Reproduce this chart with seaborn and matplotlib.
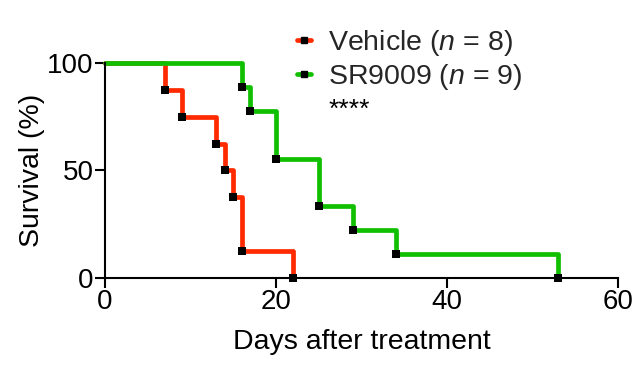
import numpy as np
import pandas as pd
import matplotlib
matplotlib.use('Agg')
import matplotlib.pyplot as plt
from matplotlib.lines import Line2D
import seaborn as sns

# Dias de morte (sem censura) por grupo
vehicle_days = [7, 9, 13, 14, 15, 16, 16, 22]
sr9009_days = [16, 17, 20, 20, 25, 25, 29, 34, 53]
group_names = ['Vehicle', 'SR9009']
group_colors = ['#ff2a00', '#10c000']
legend_labels = ['Vehicle ($\\it{n}$ = 8)', 'SR9009 ($\\it{n}$ = 9)']
x_ticks = [0, 20, 40, 60]
y_ticks = [0, 50, 100]


def curva_km(dias):
    """Kaplan-Meier simples (todos eventos)"""
    n = len(dias)
    tempos = sorted(set(dias))
    t = [0]
    s = [100.0]
    vivos = n
    for tt in tempos:
        vivos -= dias.count(tt)
        t.append(tt)
        s.append(100.0 * vivos / n)
    return t, s


frames = []
for nome, dias in zip(group_names, [vehicle_days, sr9009_days]):
    t, s = curva_km(dias)
    frames.append(pd.DataFrame({'day': t, 'survival': s, 'group': nome}))
df = pd.concat(frames, ignore_index=True)

sns.set_style('ticks')
plt.rcParams['font.family'] = ['Liberation Sans', 'DejaVu Sans']
plt.rcParams['mathtext.fontset'] = 'custom'
plt.rcParams['mathtext.it'] = 'Liberation Sans:italic'
plt.rcParams['mathtext.rm'] = 'Liberation Sans'

fig = plt.figure(figsize=(6.4, 3.71), dpi=100)
ax = fig.add_axes([0.164, 0.2507, 0.802, 0.5795])

for nome, cor in zip(group_names, group_colors):
    sub = df[df['group'] == nome]
    sns.lineplot(data=sub, x='day', y='survival', ax=ax, color=cor,
                 drawstyle='steps-post', linewidth=3.4, clip_on=False,
                 legend=False, zorder=2)
    pts = sub[sub['day'] > 0]
    sns.scatterplot(data=pts, x='day', y='survival', ax=ax, color='black',
                    marker='s', s=38, linewidth=0, clip_on=False,
                    legend=False, zorder=3)

ax.set_xlim(0, 60)
ax.set_ylim(0, 100)
ax.set_xticks(x_ticks)
ax.set_yticks(y_ticks)
ax.tick_params(axis='both', labelsize=20, length=7, width=1.5, color='black',
               labelcolor='black', pad=1)
for lado in ['left', 'bottom']:
    ax.spines[lado].set_linewidth(1.5)
    ax.spines[lado].set_color('black')
sns.despine(ax=ax)
ax.set_xlabel('Days after treatment', fontsize=20.5, labelpad=10, color='black')
ax.set_ylabel('Survival (%)', fontsize=20.5, labelpad=2, color='black')

handles = [Line2D([0], [0], color=c, linewidth=3.4, marker='s',
                  markersize=5, markerfacecolor='black', markeredgecolor='black')
           for c in group_colors]
fig.legend(handles, legend_labels, loc='upper left',
           bbox_to_anchor=(0.433, 0.978), frameon=False, fontsize=20.5,
           handlelength=0.5, handletextpad=0.6, labelspacing=0.12,
           borderpad=0.2)
fig.text(0.514, 0.705, '****', fontsize=19, color='black', va='center')

plt.savefig('out.png', dpi=100)
plt.close()
